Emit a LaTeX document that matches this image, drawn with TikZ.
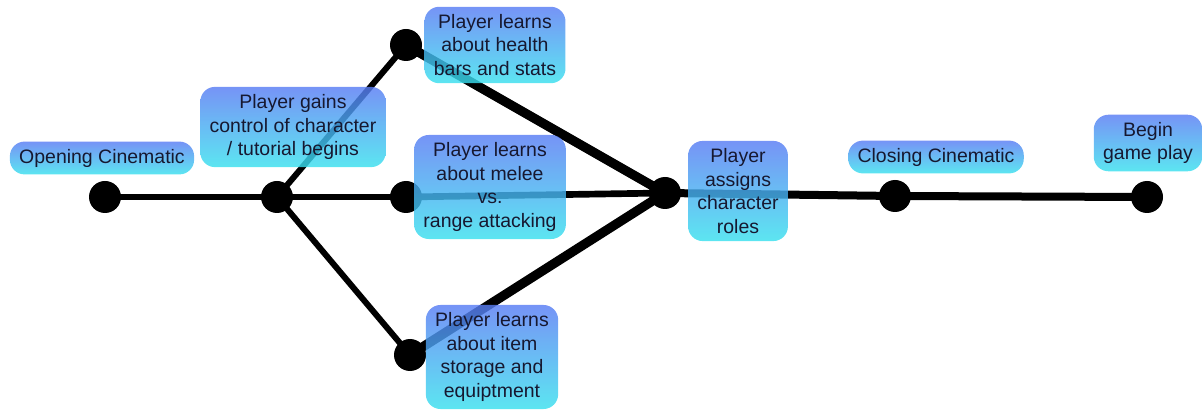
\documentclass[tikz,border=0pt]{standalone}
\usepackage{fontspec}
\setmainfont{Liberation Sans}
\begin{document}
\begin{tikzpicture}[x=0.75pt,y=-0.75pt,
  dot/.style={circle,fill=black,inner sep=0pt,minimum size=24pt},
  lbl/.style={align=center,inner xsep=7pt,inner ysep=5.5pt,rounded corners=11pt,
    top color=lblTop,bottom color=lblBot,fill opacity=0.82,text opacity=1,
    text=lblText,font=\fontsize{14.6}{17.8}\selectfont},
  conn/.style={line width=#1,line cap=round}]
\definecolor{lblTop}{RGB}{88,124,244}
\definecolor{lblBot}{RGB}{56,224,238}
\definecolor{lblText}{RGB}{22,24,48}
\useasboundingbox (0,0) rectangle (1202,416);
% dots
\node[dot] (A) at (105,197) {};
\node[dot] (B) at (277,197) {};
\node[dot] (C) at (406,45) {};
\node[dot] (D) at (406,197) {};
\node[dot] (E) at (410,355) {};
\node[dot] (F) at (665,193) {};
\node[dot] (G) at (895,196) {};
\node[dot] (H) at (1147,197) {};
% connectors
\draw[conn=5pt] (A.center) -- (B.center);
\draw[conn=5pt] (B.center) -- (D.center);
\draw[conn=5pt] (D.center) -- (F.center);
\draw[conn=4.5pt] (B.center) -- (C.center);
\draw[conn=4.5pt] (B.center) -- (E.center);
\draw[conn=7pt] (C.center) -- (F.center);
\draw[conn=7pt] (E.center) -- (F.center);
\draw[conn=6pt] (F.center) -- (G.center);
\draw[conn=6pt] (G.center) -- (H.center);
% labels
\node[lbl] (lA) at (102,158) {Opening Cinematic};
\node[lbl] (lB) at (293,127) {Player gains\\control of character\\/ tutorial begins};
\node[lbl] (lC) at (495,45) {Player learns\\about health\\bars and stats};
\node[lbl] (lD) at (490,187) {Player learns\\about melee\\vs.\\range attacking};
\node[lbl] (lF) at (738,191) {Player\\assigns\\character\\roles};
\node[lbl] (lE) at (492,357) {Player learns\\about item\\storage and\\equiptment};
\node[lbl] (lG) at (936,157) {Closing Cinematic};
\node[lbl] (lH) at (1148,143) {Begin\\game play};
\end{tikzpicture}
\end{document}
